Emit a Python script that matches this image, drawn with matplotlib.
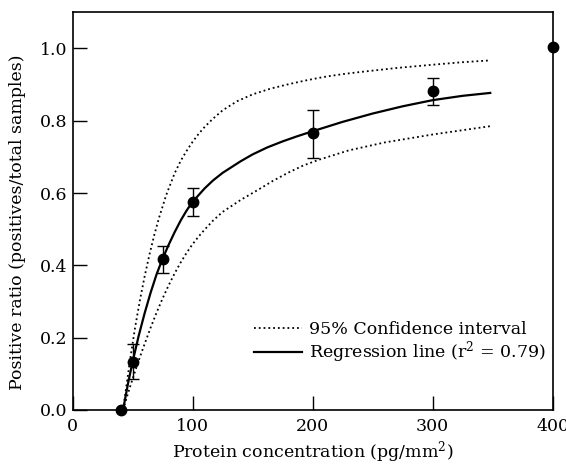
import numpy as np
import matplotlib
matplotlib.use('Agg')
import matplotlib.pyplot as plt

# Measured points; the first and last have no error bar
conc = [40, 50, 75, 100, 200, 300, 400]
ratio = [0.0, 0.134, 0.417, 0.575, 0.767, 0.882, 1.005]
bar_conc = [50, 75, 100, 200, 300]
bar_ratio = [0.134, 0.417, 0.575, 0.767, 0.882]
err_low = [0.049, 0.037, 0.038, 0.070, 0.038]
err_high = [0.048, 0.036, 0.039, 0.064, 0.035]

# Regression line
reg_x = [42, 44, 46, 48, 50, 55, 60, 65, 70, 75, 80, 85, 90, 95, 100, 110,
         117, 125, 140, 150, 162, 175, 187, 200, 225, 250, 275, 300, 325, 348]
reg_y = [0.0, 0.036, 0.071, 0.103, 0.134, 0.205, 0.268, 0.325, 0.376, 0.419,
         0.457, 0.492, 0.524, 0.552, 0.576, 0.613, 0.635, 0.656, 0.688, 0.707,
         0.726, 0.743, 0.757, 0.771, 0.797, 0.820, 0.840, 0.857, 0.869, 0.877]

# 95% confidence band, upper and lower
up_x = [42, 45, 48, 52, 56, 60, 64, 68, 72, 78, 85, 90, 95, 100, 105, 110,
        117, 125, 137, 150, 165, 181, 195, 209, 225, 240, 270, 300, 325, 348]
up_y = [0.0, 0.072, 0.142, 0.228, 0.303, 0.370, 0.430, 0.484, 0.532, 0.595,
        0.655, 0.689, 0.717, 0.742, 0.764, 0.783, 0.806, 0.829, 0.854, 0.873,
        0.889, 0.902, 0.912, 0.921, 0.929, 0.935, 0.946, 0.955, 0.962, 0.967]
lo_x = [42, 45, 48, 52, 56, 60, 65, 70, 75, 80, 85, 90, 95, 100, 105, 110,
        117, 125, 140, 155, 167, 180, 192, 205, 230, 260, 300, 348]
lo_y = [0.0, 0.034, 0.066, 0.107, 0.146, 0.183, 0.228, 0.270, 0.309, 0.345,
        0.378, 0.408, 0.435, 0.459, 0.480, 0.499, 0.524, 0.548, 0.581, 0.610,
        0.634, 0.657, 0.676, 0.692, 0.718, 0.740, 0.762, 0.785]

x_ticks = [0, 100, 200, 300, 400]
y_ticks = [0.0, 0.2, 0.4, 0.6, 0.8, 1.0]

plt.rcParams['font.family'] = ['DejaVu Serif']
plt.rcParams['mathtext.fontset'] = 'dejavuserif'

fig = plt.figure(figsize=(5.66, 4.66), dpi=100)
ax = fig.add_axes([0.1284, 0.1202, 0.848, 0.8534])

ax.plot(up_x, up_y, color='black', linestyle=':', linewidth=1.3,
        label='95% Confidence interval')
ax.plot(lo_x, lo_y, color='black', linestyle=':', linewidth=1.3)
ax.plot(reg_x, reg_y, color='black', linestyle='-', linewidth=1.6,
        label='Regression line (r$^2$ = 0.79)')

ax.errorbar(bar_conc, bar_ratio, yerr=[err_low, err_high], fmt='none',
            ecolor='black', elinewidth=1.0, capsize=4.5, capthick=1.0,
            zorder=4)
ax.plot(conc, ratio, 'o', color='black', markersize=7.5, clip_on=False,
        zorder=5)

ax.set_xlim(0, 400)
ax.set_ylim(0, 1.1)
ax.set_xticks(x_ticks)
ax.set_yticks(y_ticks)
ax.set_yticklabels([f'{v:.1f}' for v in y_ticks])
ax.tick_params(direction='in', length=10, width=1.0, labelsize=12.5,
               top=False, right=False)
ax.tick_params(axis='x', pad=6)
for s in ax.spines.values():
    s.set_linewidth(1.2)

ax.set_xlabel('Protein concentration (pg/mm$^2$)', fontsize=12.5, labelpad=3)
ax.set_ylabel('Positive ratio (positives/total samples)', fontsize=12.5)
ax.yaxis.set_label_coords(-0.098, 0.472)

ax.legend(loc='lower left', bbox_to_anchor=(0.378, 0.112), frameon=False,
          fontsize=12.5, handlelength=2.75, handletextpad=0.4,
          labelspacing=0.1, borderpad=0, borderaxespad=0)

fig.savefig('out.png', dpi=100)
